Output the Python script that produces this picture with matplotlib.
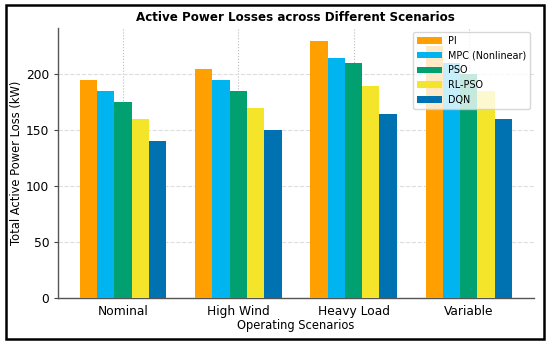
import numpy as np
import matplotlib
matplotlib.use("Agg")
import matplotlib.pyplot as plt
from matplotlib.patches import Rectangle

# data
scenarios = ["Nominal", "High Wind", "Heavy Load", "Variable"]
methods = ["PI", "MPC (Nonlinear)", "PSO", "RL-PSO", "DQN"]
pi = [195, 205, 230, 225]
mpc = [185, 195, 215, 210]
pso = [175, 185, 210, 200]
rl_pso = [160, 170, 190, 185]
dqn = [140, 150, 165, 160]
values = [pi, mpc, pso, rl_pso, dqn]
colors = ["#FFA000", "#00B4EF", "#00A070", "#F5E52A", "#0072B2"]

fig = plt.figure(figsize=(5.5, 3.46), dpi=100)
ax = fig.add_axes([0.106, 0.139, 0.864, 0.78])

x = np.arange(len(scenarios))
width = 0.15
for i, (name, vals) in enumerate(zip(methods, values)):
    ax.bar(x + (i - 2) * width, vals, width, label=name, color=colors[i], zorder=3)

ax.set_xticks(x)
ax.set_xticklabels(scenarios, fontsize=8.8)
ax.tick_params(axis="x", direction="in", length=3, color="#444444", pad=5)
ax.tick_params(axis="y", direction="out", length=3, color="#444444", labelsize=8.8)
ax.set_yticks([0, 50, 100, 150, 200])

ax.grid(axis="y", linestyle="--", color="#dddddd", linewidth=0.8, zorder=0)
ax.grid(axis="x", linestyle=":", color="#bbbbbb", linewidth=0.8, zorder=0)

for s in ["top", "right"]:
    ax.spines[s].set_visible(False)
for s in ["left", "bottom"]:
    ax.spines[s].set_color("#555555")
    ax.spines[s].set_linewidth(1.0)

ax.set_title("Active Power Losses across Different Scenarios", fontsize=8.6,
             fontweight="bold", pad=5)
ax.set_xlabel("Operating Scenarios", fontsize=8.3, labelpad=1)
ax.set_ylabel("Total Active Power Loss (kW)", fontsize=8.3, labelpad=2)

leg = ax.legend(loc="upper right", fontsize=6.9, framealpha=0.78,
                edgecolor="#cccccc", fancybox=True, borderaxespad=0.4,
                handlelength=2.6, handletextpad=0.6, labelspacing=0.5)
leg.set_zorder(5)

# black frame around the picture
fig.patches.append(Rectangle((0.011, 0.02), 0.978, 0.965, transform=fig.transFigure,
                             fill=False, edgecolor="black", linewidth=1.8))

fig.savefig("out.png", dpi=100)
